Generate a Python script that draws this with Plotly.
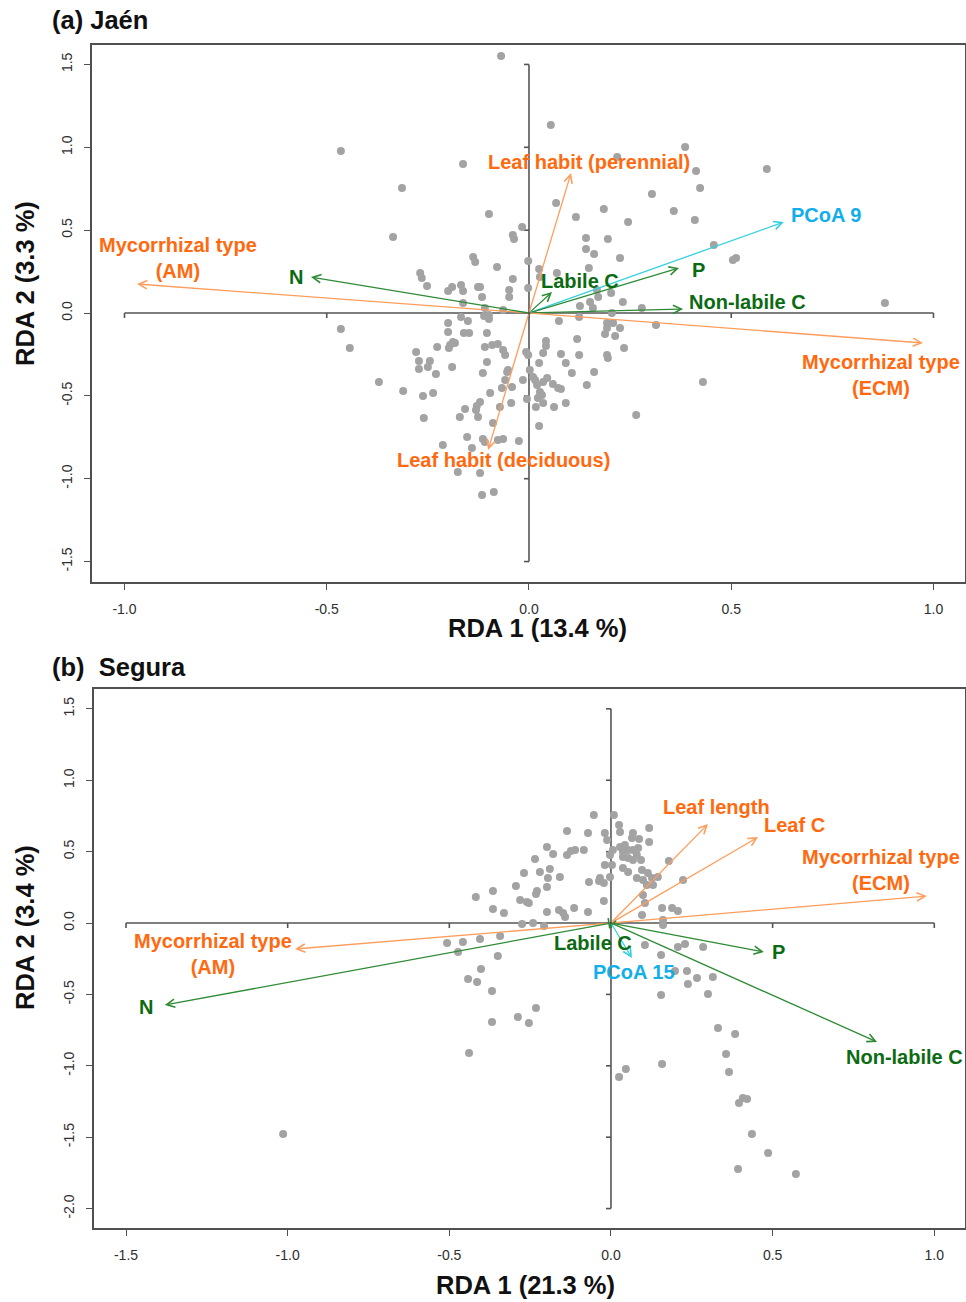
import plotly.graph_objects as go

W, H = 966, 1302
FONT = "Liberation Sans, Arial, Helvetica, sans-serif"

# ---------------- Panel (a) Jaén : site scores ----------------
a_x = [-0.465, -0.163, -0.314, -0.336, -0.138, -0.133, -0.269, -0.265, -0.252, -0.200, -0.190, -0.168, -0.163, -0.163, -0.126,
       -0.069, 0.054, 0.386, 0.218, 0.413, 0.423, 0.304, 0.067, 0.185, 0.358, 0.116, 0.245, 0.410, 0.141, 0.195, 0.141, 0.161, 0.225, 0.148, 0.457, 0.588, 0.504, 0.512,
       -0.099, -0.017, -0.040, -0.037, -0.079, -0.002, -0.040, -0.049, -0.049, -0.002, 0.025, 0.027, 0.069, 0.171, 0.168, 0.203, 0.232, 0.279, 0.126, 0.151, 0.158, 0.205, 0.880,
       -0.121, -0.116, -0.109, -0.064, 0.074, 0.124, 0.193, 0.208, 0.314,
       0.193, 0.225, 0.213, 0.188, 0.119, 0.235, 0.193, 0.195, 0.124, 0.079, 0.042, 0.042, 0.035, 0.091, 0.025, -0.007, -0.002, 0.161, 0.106, 0.002, 0.010, 0.015, 0.045, 0.035, -0.015, 0.059, 0.079, 0.143, 0.027, 0.032, 0.022, 0.017, -0.005, 0.091, 0.062, 0.035, 0.025, 0.265, 0.430,
       -0.044, -0.042, -0.054, -0.059, -0.067, -0.089, -0.077, -0.064, -0.025, -0.109, -0.121, -0.116, -0.087,
       -0.104, -0.109, -0.104, -0.114, -0.091, -0.077, -0.064, -0.059, -0.121, -0.096, -0.052,
       -0.099, -0.111, -0.099, -0.168, -0.151, -0.200, -0.200, -0.161, -0.148, -0.188, -0.195, -0.198, -0.227, -0.279, -0.272, -0.245, -0.272, -0.250, -0.230, -0.190,
       -0.311, -0.262, -0.237, -0.129, -0.131, -0.158, -0.171, -0.126, -0.072, -0.260, -0.153, -0.141, -0.114, -0.213, -0.176, -0.465, -0.443, -0.371, -0.183, 0.072, 0.020]
a_y = [0.978, 0.899, 0.754, 0.459, 0.338, 0.308, 0.241, 0.211, 0.163, 0.133, 0.157, 0.169, 0.133, 0.060, 0.157,
       1.551, 1.135, 1.002, 0.941, 0.857, 0.754, 0.718, 0.664, 0.628, 0.616, 0.579, 0.549, 0.561, 0.453, 0.447, 0.386, 0.356, 0.332, 0.272, 0.410, 0.869, 0.320, 0.332,
       0.597, 0.519, 0.471, 0.447, 0.278, 0.314, 0.205, 0.139, 0.097, 0.151, 0.266, 0.217, 0.241, 0.097, 0.139, 0.121, 0.066, 0.030, 0.042, 0.066, 0.030, 0.000, 0.060,
       0.157, 0.097, 0.030, 0.018, -0.048, -0.024, -0.060, -0.060, -0.072,
       -0.091, -0.091, -0.139, -0.127, -0.157, -0.211, -0.253, -0.272, -0.253, -0.247, -0.169, -0.199, -0.241, -0.302, -0.302, -0.235, -0.253, -0.356, -0.362, -0.344, -0.386, -0.404, -0.392, -0.416, -0.404, -0.428, -0.459, -0.435, -0.477, -0.495, -0.513, -0.567, -0.519, -0.543, -0.567, -0.543, -0.682, -0.616, -0.416,
       -0.543, -0.447, -0.356, -0.404, -0.453, -0.664, -0.766, -0.760, -0.772, -0.778, -0.966, -1.098, -1.080,
       -0.121, -0.205, -0.296, -0.362, -0.193, -0.187, -0.223, -0.253, -0.537, -0.483, -0.344,
       -0.012, -0.018, -0.036, -0.024, -0.048, -0.060, -0.115, -0.121, -0.121, -0.175, -0.193, -0.211, -0.205, -0.235, -0.290, -0.290, -0.338, -0.326, -0.368, -0.326,
       -0.471, -0.501, -0.483, -0.561, -0.585, -0.579, -0.628, -0.628, -0.567, -0.634, -0.748, -0.815, -0.760, -0.797, -0.960, -0.097, -0.211, -0.416, -0.181, -0.453, -0.435]

# Panel (a) fitted variables (arrows)
a_labels = ["Mycorrhizal type<br>(AM)", "N", "Leaf habit (perennial)", "Labile C", "PCoA 9", "P",
            "Non-labile C", "Mycorrhizal type<br>(ECM)", "Leaf habit (deciduous)"]
a_kind = ["trait", "soil", "trait", "soil", "pcoa", "soil", "soil", "trait", "trait"]
a_tip_x = [-0.969, -0.539, 0.104, 0.057, 0.630, 0.371, 0.381, 0.974, -0.101]
a_tip_y = [0.175, 0.217, 0.845, 0.127, 0.549, 0.272, 0.024, -0.181, -0.827]
a_lab_x = [-0.868, -0.576, 0.148, 0.126, 0.734, 0.418, 0.539, 0.870, -0.064]
a_lab_y = [0.332, 0.217, 0.911, 0.193, 0.591, 0.259, 0.066, -0.374, -0.887]

a_xticks = [-1.0, -0.5, 0.0, 0.5, 1.0]
a_xticktext = ["-1.0", "-0.5", "0.0", "0.5", "1.0"]
a_yticks = [-1.5, -1.0, -0.5, 0.0, 0.5, 1.0, 1.5]
a_yticktext = ["-1.5", "-1.0", "-0.5", "0.0", "0.5", "1.0", "1.5"]
a_cross_x = [-1.0, 1.0]
a_cross_y = [-1.5, 1.5]

# ---------------- Panel (b) Segura : site scores ----------------
b_x = [-0.053, -0.136, -0.071, -0.198, -0.179, -0.136, -0.124, -0.111, -0.084, -0.235, -0.269, -0.220, -0.189, -0.195, -0.158, -0.294, -0.198, -0.229, -0.232, -0.365, -0.418, -0.281, -0.260, -0.254, -0.365, -0.331, -0.198, -0.161, -0.148, -0.142, -0.114, -0.071, -0.068, -0.037, -0.022, -0.275, -0.241, -0.207,
       -0.507, -0.458, -0.473, -0.405, -0.343, -0.350, -0.402, -0.442, -0.414, -0.368, -0.232, -0.288, -0.254, -0.368,
       -0.019, -0.012, 0.006, -0.003, -0.019, 0.003, -0.003, 0.009, 0.025, 0.028, 0.068, 0.065, 0.118,
       0.118, 0.087, 0.028, 0.043, 0.053, 0.037, 0.068, 0.080, 0.084, 0.037, 0.053, 0.068, 0.093, 0.179, -0.034, 0.037, 0.053, 0.080, 0.096, 0.099, 0.114, 0.127, 0.145, 0.130, 0.111, 0.223,
       0.099, 0.105, 0.158, 0.189, 0.207, 0.096, 0.161, 0.161, 0.105, 0.155, 0.207, 0.229, 0.285, 0.235, 0.266, 0.238, 0.315, 0.155, 0.300, 0.198,
       0.331, 0.384, 0.356, 0.365, 0.158, 0.025, 0.046, 0.408, 0.421, 0.396, 0.436, 0.486, 0.393, 0.572, -0.439, -1.014, -0.022]
b_y = [0.756, 0.644, 0.630, 0.532, 0.483, 0.476, 0.504, 0.511, 0.511, 0.448, 0.350, 0.357, 0.378, 0.315, 0.322, 0.259, 0.252, 0.224, 0.203, 0.224, 0.182, 0.161, 0.147, 0.140, 0.098, 0.070, 0.077, 0.091, 0.070, 0.042, 0.105, 0.077, 0.287, 0.294, 0.154, -0.007, 0.000, -0.021,
       -0.140, -0.133, -0.203, -0.112, -0.091, -0.231, -0.322, -0.392, -0.413, -0.476, -0.595, -0.658, -0.700, -0.693,
       0.630, 0.581, 0.511, 0.476, 0.406, 0.406, 0.322, 0.756, 0.686, 0.637, 0.630, 0.595, 0.665,
       0.567, 0.588, 0.532, 0.546, 0.511, 0.497, 0.511, 0.476, 0.525, 0.462, 0.455, 0.441, 0.441, 0.434, 0.315, 0.385, 0.357, 0.315, 0.371, 0.301, 0.350, 0.315, 0.322, 0.266, 0.266, 0.301,
       0.196, 0.140, 0.105, 0.105, 0.084, 0.056, 0.021, -0.014, -0.154, -0.224, -0.168, -0.147, -0.168, -0.336, -0.385, -0.427, -0.378, -0.504, -0.497, -0.336,
       -0.735, -0.777, -0.917, -1.043, -0.987, -1.078, -1.022, -1.226, -1.233, -1.261, -1.478, -1.611, -1.723, -1.758, -0.910, -1.478, 0.280]

b_labels = ["Mycorrhizal type<br>(AM)", "N", "Leaf length", "Leaf C", "Mycorrhizal type<br>(ECM)",
            "Labile C", "PCoA 15", "P", "Non-labile C"]
b_kind = ["trait", "soil", "trait", "trait", "trait", "soil", "pcoa", "soil", "soil"]
b_tip_x = [-0.977, -1.380, 0.300, 0.455, 0.977, -0.006, 0.065, 0.473, 0.823]
b_tip_y = [-0.182, -0.574, 0.693, 0.602, 0.189, -0.042, -0.245, -0.203, -0.833]
b_lab_x = [-1.231, -1.438, 0.325, 0.569, 0.835, -0.056, 0.071, 0.517, 0.909]
b_lab_y = [-0.214, -0.588, 0.812, 0.686, 0.371, -0.140, -0.343, -0.203, -0.938]

b_xticks = [-1.5, -1.0, -0.5, 0.0, 0.5, 1.0]
b_xticktext = ["-1.5", "-1.0", "-0.5", "0.0", "0.5", "1.0"]
b_yticks = [-2.0, -1.5, -1.0, -0.5, 0.0, 0.5, 1.0, 1.5]
b_yticktext = ["-2.0", "-1.5", "-1.0", "-0.5", "0.0", "0.5", "1.0", "1.5"]
b_cross_x = [-1.5, 1.0]
b_cross_y = [-2.0, 1.5]

# ---------------- styling ----------------
TEXT_COL = {"trait": "#FF6A10", "soil": "#0B6B12", "pcoa": "#12AEEA"}
LINE_COL = {"trait": "#FF9D5C", "soil": "#2E8B35", "pcoa": "#35D0DE"}
POINT_COL = "#A3A3A3"
AXIS_COL = "#505050"

# pixel layout of the two plot boxes (left, right, top, bottom)
BOX_A = (92, 965, 45, 582)
BOX_B = (94, 965, 689, 1228)
RANGE_A = ([-1.0803, 1.0779], [-1.6234, 1.6174])
RANGE_B = ([-1.599, 1.095], [-2.136, 1.639])

fig = go.Figure()
fig.add_trace(go.Scatter(x=a_x, y=a_y, mode="markers", xaxis="x", yaxis="y",
                         marker=dict(size=8, color=POINT_COL, line=dict(width=0)),
                         hoverinfo="skip", showlegend=False))
fig.add_trace(go.Scatter(x=b_x, y=b_y, mode="markers", xaxis="x2", yaxis="y2",
                         marker=dict(size=8, color=POINT_COL, line=dict(width=0)),
                         hoverinfo="skip", showlegend=False))


def axis_pair(box, rng, xt, xtt, yt, ytt, anchor_x, anchor_y):
    l, r, t, b = box
    common = dict(showline=True, mirror=True, linecolor=AXIS_COL, linewidth=1.6,
                  ticks="outside", ticklen=6, tickwidth=1.4, tickcolor=AXIS_COL,
                  showgrid=False, zeroline=False, fixedrange=True,
                  tickfont=dict(family=FONT, size=14, color="#2e2e2e"),
                  ticklabelstandoff=7)
    xa = dict(common, domain=[l / W, r / W], range=rng[0], anchor=anchor_y,
              tickmode="array", tickvals=xt, ticktext=xtt, tickangle=0)
    ya = dict(common, domain=[1 - b / H, 1 - t / H], range=rng[1], anchor=anchor_x,
              tickmode="array", tickvals=yt, ticktext=ytt, tickangle=-90)
    return xa, ya


xa, ya = axis_pair(BOX_A, RANGE_A, a_xticks, a_xticktext, a_yticks, a_yticktext, "x", "y")
xb, yb = axis_pair(BOX_B, RANGE_B, b_xticks, b_xticktext, b_yticks, b_yticktext, "x2", "y2")

shapes = []
annotations = []


def crosshair(xref, yref, cx, cy, xt, yt):
    ln = dict(color="#555555", width=1.6)
    shapes.append(dict(type="line", xref=xref, yref=yref, x0=cx[0], x1=cx[1], y0=0, y1=0, line=ln, layer="below"))
    shapes.append(dict(type="line", xref=xref, yref=yref, x0=0, x1=0, y0=cy[0], y1=cy[1], line=ln, layer="below"))
    for t in xt:
        if cx[0] <= t <= cx[1]:
            shapes.append(dict(type="line", xref=xref, yref=yref, x0=t, x1=t, ysizemode="pixel",
                               yanchor=0, y0=0, y1=-5, line=ln, layer="below"))
    for t in yt:
        if cy[0] <= t <= cy[1]:
            shapes.append(dict(type="line", xref=xref, yref=yref, y0=t, y1=t, xsizemode="pixel",
                               xanchor=0, x0=0, x1=-5, line=ln, layer="below"))


crosshair("x", "y", a_cross_x, a_cross_y, a_xticks, a_yticks)
crosshair("x2", "y2", b_cross_x, b_cross_y, b_xticks, b_yticks)


def biplot_arrows(xref, yref, labels, kinds, tx, ty, lx, ly):
    for lab, k, x, y, px, py in zip(labels, kinds, tx, ty, lx, ly):
        annotations.append(dict(xref=xref, yref=yref, axref=xref, ayref=yref,
                                x=x, y=y, ax=0, ay=0, text="", showarrow=True,
                                arrowhead=5, arrowsize=1.25, arrowwidth=1.3,
                                arrowcolor=LINE_COL[k], standoff=0, startstandoff=0))
    for lab, k, x, y, px, py in zip(labels, kinds, tx, ty, lx, ly):
        annotations.append(dict(xref=xref, yref=yref, x=px, y=py, text=lab, showarrow=False,
                                xanchor="center", yanchor="middle", align="center",
                                font=dict(family=FONT, size=20, color=TEXT_COL[k], weight="bold")))


biplot_arrows("x", "y", a_labels, a_kind, a_tip_x, a_tip_y, a_lab_x, a_lab_y)
biplot_arrows("x2", "y2", b_labels, b_kind, b_tip_x, b_tip_y, b_lab_x, b_lab_y)

TITLE_FONT = dict(family=FONT, size=25.5, color="#111111", weight="bold")
text_items = [
    ("(a) Jaén", 50, 20, 0, "left"),
    ("(b)  Segura", 50, 667, 0, "left"),
    ("RDA 1 (13.4 %)", 537, 628, 0, "center"),
    ("RDA 2 (3.3 %)", 25, 284, -90, "center"),
    ("RDA 1 (21.3 %)", 525, 1285, 0, "center"),
    ("RDA 2 (3.4 %)", 25, 928, -90, "center"),
]
for txt, px, py, ang, xa_ in text_items:
    annotations.append(dict(xref="paper", yref="paper", x=px / W, y=1 - py / H, text=txt,
                            showarrow=False, textangle=ang, xanchor=xa_, yanchor="middle",
                            font=TITLE_FONT))

fig.update_layout(width=W, height=H, margin=dict(l=0, r=0, t=0, b=0),
                  paper_bgcolor="white", plot_bgcolor="white",
                  xaxis=xa, yaxis=ya, xaxis2=xb, yaxis2=yb,
                  shapes=shapes, annotations=annotations, showlegend=False,
                  font=dict(family=FONT))

fig.write_html("out.html", config={"displayModeBar": False},
               post_script="document.body.style.margin='0';")
